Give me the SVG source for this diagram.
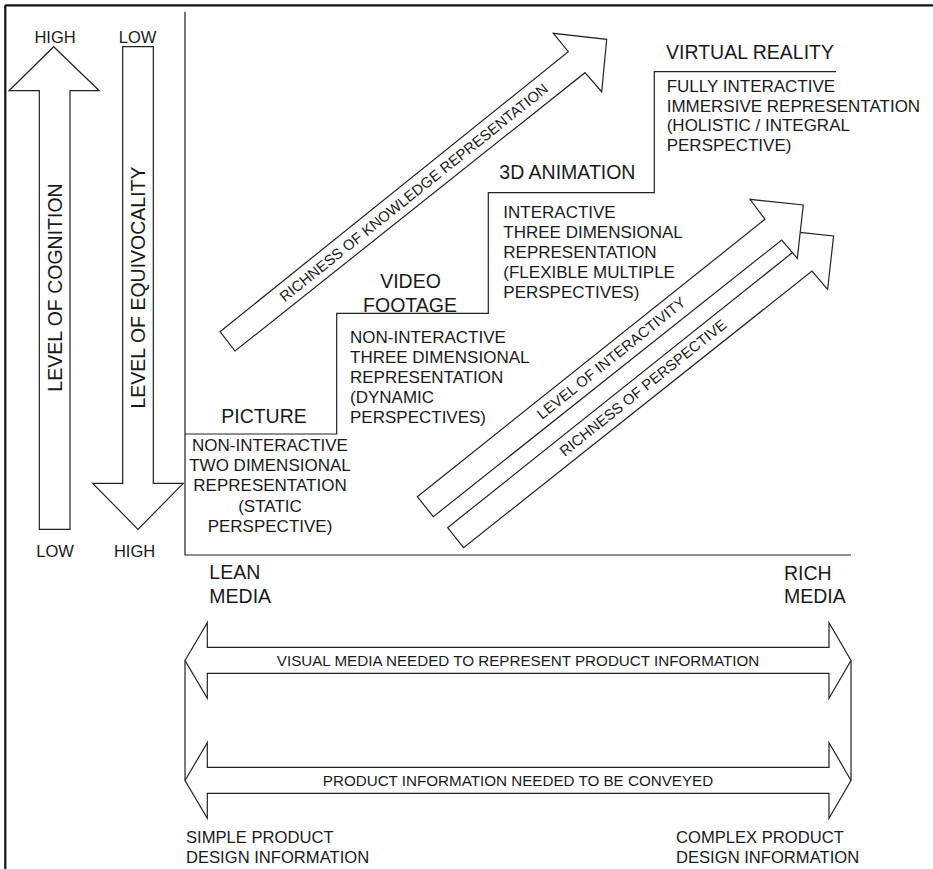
<svg xmlns="http://www.w3.org/2000/svg" width="933" height="869" viewBox="0 0 933 869">
<style>
text{font-family:"Liberation Sans",Arial,sans-serif;fill:#1a1a1a}
.t{font-size:19.5px}
.b{font-size:17px}
.s{font-size:16.5px}
.d{font-size:14.8px}
.m{text-anchor:middle}
.ln{stroke:#222;stroke-width:1.2;fill:none}
.ar{stroke:#222;stroke-width:1.2;fill:#fff;stroke-linejoin:miter}
</style>
<rect width="933" height="869" fill="#fff"/>
<g id="frame">
<line x1="5.3" y1="5.3" x2="933" y2="5.3" stroke="#111" stroke-width="2.2"/>
<line x1="5.3" y1="5.3" x2="5.3" y2="869" stroke="#111" stroke-width="2.2"/>
</g>
<g id="connectors">
<polyline class="ln" points="185,11.7 185,555 851,555"/>
<polyline class="ln" points="185,434 336.7,434 336.7,313.3 488.3,313.3 488.3,192.7 654.3,192.7 654.3,71.7 836,71.7"/>
<line class="ln" x1="185" y1="660.5" x2="185" y2="780.5"/>
<line class="ln" x1="851" y1="660.5" x2="851" y2="780.5"/>
</g>
<g id="cognition">
<polygon class="ar" points="53.7,46.7 99.3,90.7 70,90.7 70,529.3 39.3,529.3 39.3,90.7 9,90.7"/>
<text class="s m" x="55" y="42.7">HIGH</text>
<text class="s m" x="55" y="557">LOW</text>
<text class="m" font-size="19.5" transform="translate(55,287.5) rotate(-90)" y="7">LEVEL OF COGNITION</text>
</g>
<g id="equivocality">
<polygon class="ar" points="122.7,46.7 153.3,46.7 153.3,483.3 183.3,483.3 138,529.3 92.7,483.3 122.7,483.3"/>
<text class="s m" x="137.5" y="42.7">LOW</text>
<text class="s m" x="134.5" y="557">HIGH</text>
<text class="m" font-size="19.5" transform="translate(138,287.5) rotate(-90)" y="7">LEVEL OF EQUIVOCALITY</text>
</g>
<g id="knowledge">
<polygon class="ar" points="220,331.7 568.3,51.7 553.3,33.3 606.7,39.3 601.7,91.7 585,72.7 235,351"/>
<text class="d m" transform="translate(413.6,192.4) rotate(-38.7)" y="5.3">RICHNESS OF KNOWLEDGE REPRESENTATION</text>
</g>
<g id="perspective">
<polygon class="ar" points="447.6,527.7 795.3,250.3 780.3,230.3 833.6,236 827.6,289.3 812,271 463.6,547.7"/>
<text class="d m" transform="translate(642.8,387.6) rotate(-38.7)" y="5.3">RICHNESS OF PERSPECTIVE</text>
</g>
<g id="interactivity">
<polygon class="ar" points="417.3,496.7 765,219.3 750,199.3 803.3,205 797.3,258.3 781.7,240 433.3,516.7"/>
<text class="d m" transform="translate(611.1,357.9) rotate(-38.7)" y="5.3">LEVEL OF INTERACTIVITY</text>
</g>
<g id="picture">
<text class="t m" x="264" y="423.3">PICTURE</text>
<text class="b m" x="270"><tspan x="270" y="450.7">NON-INTERACTIVE</tspan><tspan x="270" y="471">TWO DIMENSIONAL</tspan><tspan x="270" y="491.3">REPRESENTATION</tspan><tspan x="270" y="511.7">(STATIC</tspan><tspan x="270" y="532">PERSPECTIVE)</tspan></text>
</g>
<g id="video">
<text class="t m" x="410.5" y="288.3">VIDEO</text>
<text class="t m" x="410" y="312.3">FOOTAGE</text>
<text class="b"><tspan x="350" y="343.3">NON-INTERACTIVE</tspan><tspan x="350" y="363.2">THREE DIMENSIONAL</tspan><tspan x="350" y="383">REPRESENTATION</tspan><tspan x="350" y="402.8">(DYNAMIC</tspan><tspan x="350" y="422.7">PERSPECTIVES)</tspan></text>
</g>
<g id="animation">
<text class="t" x="499.3" y="179.3">3D ANIMATION</text>
<text class="b"><tspan x="503.3" y="218.3">INTERACTIVE</tspan><tspan x="503.3" y="238.3">THREE DIMENSIONAL</tspan><tspan x="503.3" y="258.3">REPRESENTATION</tspan><tspan x="503.3" y="278.3">(FLEXIBLE MULTIPLE</tspan><tspan x="503.3" y="298.3">PERSPECTIVES)</tspan></text>
</g>
<g id="vr">
<text class="t" x="666" y="59.3">VIRTUAL REALITY</text>
<text class="b"><tspan x="666.7" y="91.7">FULLY INTERACTIVE</tspan><tspan x="666.7" y="111.5">IMMERSIVE REPRESENTATION</tspan><tspan x="666.7" y="131.2">(HOLISTIC / INTEGRAL</tspan><tspan x="666.7" y="151">PERSPECTIVE)</tspan></text>
</g>
<g id="lean">
<text class="t"><tspan x="209.3" y="579.3">LEAN</tspan><tspan x="209.3" y="603.3">MEDIA</tspan></text>
</g>
<g id="rich">
<text class="t"><tspan x="784" y="580">RICH</tspan><tspan x="784" y="603.3">MEDIA</tspan></text>
</g>
<g id="visual-media">
<polygon class="ar" points="185,660.5 207.3,622.7 207.3,647.3 829,647.3 829,622.7 851,660.5 829,698.3 829,673.3 207.3,673.3 207.3,698.3"/>
<text class="m" font-size="15.2" x="518" y="666">VISUAL MEDIA NEEDED TO REPRESENT PRODUCT INFORMATION</text>
</g>
<g id="product-info">
<polygon class="ar" points="185,780.5 207.3,742.7 207.3,767.3 829,767.3 829,742.7 851,780.5 829,818.3 829,793.3 207.3,793.3 207.3,818.3"/>
<text class="m" font-size="15.2" x="518" y="786">PRODUCT INFORMATION NEEDED TO BE CONVEYED</text>
</g>
<g id="simple">
<text font-size="16.6"><tspan x="186" y="843.3">SIMPLE PRODUCT</tspan><tspan x="186" y="863.3">DESIGN INFORMATION</tspan></text>
</g>
<g id="complex">
<text font-size="16.6"><tspan x="676" y="843.3">COMPLEX PRODUCT</tspan><tspan x="676" y="863.3">DESIGN INFORMATION</tspan></text>
</g>
</svg>
